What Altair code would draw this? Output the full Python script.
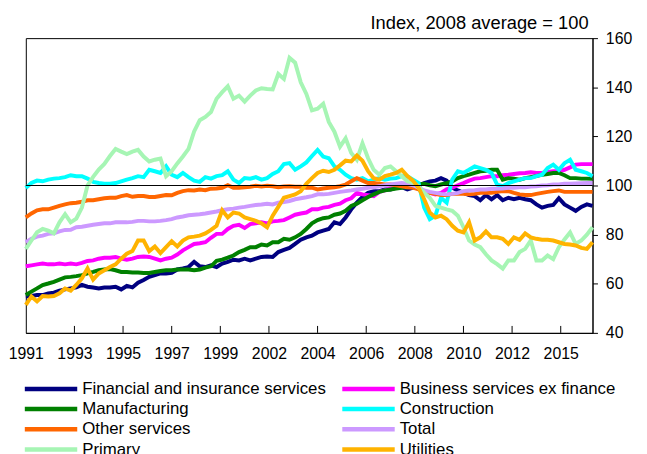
import altair as alt
import pandas as pd

series = ["Financial and insurance services", "Business services ex finance",
          "Manufacturing", "Construction", "Other services", "Total",
          "Primary", "Utilities"]
colors = ["#000080", "#FF00FF", "#008000", "#00FFFF", "#FF6600", "#CC99FF",
          "#A6F5B4", "#FFB300"]

# quarterly observations, first one at the left edge of the plot
start_year = 1991.25
n_quarters = 102

financial = [54.8, 55, 55.4, 55.4, 56.1, 56.4, 57.2, 57.7, 58.1, 58.5, 59.5, 58.8, 58.5, 58.1, 58.5, 58.5,
             58.8, 57.7, 59.1, 58.5, 60.4, 61.5, 62.8, 63.5, 64.2, 64.2, 64.4, 65.8, 66.2, 66.8, 68.9, 67.1,
             66.8, 67.5, 66.8, 68.2, 68.9, 69.8, 69.5, 70.2, 69.5, 70.2, 70.9, 71.1, 70.9, 72.9, 73.8, 74.6,
             76.2, 77.9, 78.9, 79.6, 80.9, 81.6, 82.3, 85, 84.3, 87, 90.3, 93, 95.3, 97, 97.7, 97.7,
             98.4, 98.4, 99.1, 99.3, 98.4, 99.1, 100.1, 101, 101.7, 102, 103, 102, 99.1, 98, 97, 96.1,
             95.7, 94, 96.1, 94.4, 96.1, 94, 95, 94.4, 95, 94.4, 94, 92.3, 91, 91.7, 92.1, 94.8,
             92.3, 91, 89.7, 91.3, 92.3, 91.7]
business = [67.1, 67.5, 67.9, 68.2, 67.9, 67.9, 68.2, 67.9, 68.2, 67.9, 68.5, 69.3, 69.5, 70.2, 70.6, 70.6,
            70.9, 70.2, 69.8, 70.2, 70.9, 71.1, 70.9, 70.2, 69.5, 70.2, 70.6, 71.9, 73.6, 74.9, 76.2, 76.5,
            76.9, 78.7, 80.3, 80.3, 82.3, 83.6, 84, 82.7, 84.3, 84.6, 85, 84.6, 85.4, 85.6, 85.9, 87,
            88.1, 88.6, 89, 90.3, 90.3, 91, 91.3, 92.1, 92.6, 94, 94.8, 97, 96.4, 96.1, 95.7, 97.4,
            98, 99.1, 100.1, 100.4, 100.1, 99.7, 99.1, 97.7, 97, 96.4, 97, 98.4, 99.1, 100.1, 101, 102,
            102.8, 103, 103.4, 103.8, 103.8, 104.2, 104.4, 104.7, 105, 105.1, 105.4, 105.1, 105.1, 105.5, 105.8, 105.8,
            106.4, 107.4, 108.5, 108.7, 108.7, 108.7]
manufacturing = [55.4, 56.8, 58.1, 59.5, 60.1, 60.8, 61.7, 62.6, 62.8, 63.1, 63.5, 64.2, 64.8, 65.5, 65.8, 66,
                 65.5, 64.8, 64.8, 64.6, 64.6, 64.4, 64.4, 64.8, 65.2, 65.5, 65.5, 65.8, 65.8, 65.8, 65.5, 65.8,
                 66.6, 67.1, 69.3, 69.8, 70.6, 71.5, 72.9, 73.8, 74.9, 74.9, 76, 75.6, 76.9, 76.9, 78.3, 77.9,
                 78.9, 80.3, 82.3, 84.6, 85.9, 86.7, 87, 88.1, 88.6, 89.7, 91.7, 92.6, 94, 95.3, 96.4, 97.4,
                 98, 98.4, 98.8, 99.1, 99.3, 99.7, 100.4, 100.7, 100.1, 99.7, 100.4, 101, 101.7, 103, 103.8, 104.4,
                 105.1, 105.8, 106, 106.4, 106.4, 102.4, 103, 102.8, 102.4, 103, 103.4, 103.8, 104.4, 104.7, 105.1, 105.1,
                 104.2, 103, 103, 102.8, 102.8, 102.7]
construction = [99, 101, 102, 101.7, 102.4, 102.8, 103, 103.4, 104.2, 103.8, 103.8, 102.8, 101.5, 101, 100.7, 100.7,
                101, 101.7, 102.4, 103, 103.8, 103.4, 106.4, 105.8, 105.1, 107.8, 104.4, 103.4, 105.1, 103.4, 102, 101.5,
                103.4, 102.8, 103.8, 104.2, 105.8, 102.4, 101, 103, 102.8, 103.4, 102.4, 103, 104.7, 105.8, 108.7, 109.1,
                106.4, 107.8, 109.4, 112, 114.5, 111.8, 111.1, 107.8, 106.4, 104.4, 103, 102.4, 103, 101.7, 102.4, 103,
                102.4, 102.8, 103, 103.8, 103.8, 102.4, 101, 91, 86.3, 87.7, 95, 93, 102.4, 105.8, 105.1, 106.4,
                107.8, 107.1, 106.4, 105.1, 100.4, 99.7, 101, 101.7, 102.4, 103, 103, 103.8, 104.4, 107.1, 108.5, 106.4,
                109.1, 110.5, 106.4, 105.8, 105.1, 103.8]
other = [87, 88.6, 89.9, 90.3, 90.3, 91, 91.7, 92.3, 92.8, 93, 93.4, 94, 94, 94.4, 94.8, 95,
         95, 95.7, 96.1, 95.4, 95.7, 95.7, 95.3, 95.3, 95.7, 96.1, 96, 97, 97.7, 98.1, 98, 98.4,
         98.1, 98.7, 98.8, 99.1, 100.1, 99.1, 99.1, 99.3, 99.5, 99.9, 99.6, 99.9, 99.7, 99.3, 99.6, 99.7,
         99.5, 99.5, 99.1, 99.1, 98.4, 98.8, 99.1, 99.3, 99.7, 100.4, 101.7, 103, 102, 101, 101, 100.7,
         100.4, 100.4, 100.1, 99.7, 99.3, 99.1, 98.4, 97.7, 97, 96.6, 96.1, 96.1, 96.6, 96.6, 96.6, 96.4,
         96.6, 97, 97, 97, 97.4, 97.7, 97.7, 97, 96.4, 96.1, 96.1, 96.6, 97, 97.4, 97.7, 98,
         97.4, 97.4, 97.4, 97.4, 97.4, 97.4]
total = [76.9, 78.3, 79.2, 79.6, 80.3, 80.5, 81.3, 81.9, 82, 83, 83.2, 83.6, 84, 84.3, 84.6, 84.6,
         85, 85, 85, 85.2, 85.6, 85.6, 85.4, 85.4, 85.6, 85.9, 86.3, 87, 87.4, 87.9, 88.1, 88.3,
         88.6, 89, 89.4, 89.9, 90.3, 90.6, 91, 91.3, 91.7, 92.1, 92.3, 92.6, 92.3, 93, 93.3, 93.7,
         94.4, 94.8, 95.2, 95.7, 96.4, 96.4, 96.6, 97, 97.4, 97.7, 98, 98.4, 98.7, 99.1, 99.3, 99.7,
         100.1, 100.4, 100.7, 101, 100.7, 100.1, 99.1, 98, 97.4, 97, 96.6, 96.4, 96.6, 97, 97.7, 98,
         98.1, 98.4, 98.4, 98.7, 98.7, 98.8, 99.1, 99.1, 99.3, 99.3, 99.6, 99.7, 100, 100.1, 100.4, 100.4,
         100.7, 100.7, 100.8, 100.9, 101, 101]
primary = [74.2, 77.6, 81, 82.3, 81.6, 80.5, 85, 88.3, 85, 86.5, 91, 100, 103.5, 106.5, 108.8, 112,
           114.9, 113.8, 112.8, 113.8, 114.5, 111.8, 109.8, 110.5, 111, 103.8, 105.8, 109, 111.8, 114.9, 122, 126.6,
           127.9, 129.9, 135.3, 138, 140.4, 135.3, 136.6, 134.2, 136.6, 138.7, 139.6, 139.3, 139.1, 145.4, 143.4, 152,
           150, 142, 137.3, 130.6, 131.3, 133.3, 125.9, 121.9, 115.8, 119.2, 113.2, 110.5, 117.2, 111.1, 106.4, 104.4,
           107.1, 107.8, 105.8, 103.8, 101.7, 101.1, 99.7, 97, 95, 91.7, 91, 90.3, 89.7, 87.7, 83, 77.6,
           76, 74.9, 72, 69.5, 68, 66.2, 69.5, 69.5, 72.9, 74.2, 77.6, 69.5, 69.5, 71.5, 70, 74.9,
           78, 80.9, 76.2, 77.6, 80, 83]
utilities = [51.4, 54.8, 52.8, 55, 54.8, 55, 56.1, 58.1, 57.2, 59.5, 62.2, 66.2, 61.7, 64.2, 65.5, 66.8,
             67.9, 70.2, 72.2, 73.3, 77.6, 77.6, 73.3, 75.2, 72.5, 74.9, 77.3, 75.2, 77.6, 78.9, 79.2, 79.6,
             80.5, 81.9, 83.6, 89.9, 87, 89, 88.6, 87, 86.3, 85.6, 84.6, 83, 87.7, 91.3, 95, 95.7,
             96.4, 97.7, 100.7, 103, 105.1, 106, 105.5, 106.4, 108.2, 110.1, 109.8, 112.2, 110.1, 105.8, 103, 102.4,
             103.8, 104.4, 105.1, 106.4, 103.8, 102, 99.1, 94.4, 89, 87, 87.7, 86.3, 83.6, 81.6, 80.9, 85,
             77.6, 78.9, 81.3, 78.9, 78.9, 78.3, 76.2, 78.9, 77.9, 80.5, 78.9, 78.3, 77.9, 77.9, 77.6, 76.9,
             76.2, 76, 75.6, 74.6, 74.2, 76.9]

values_by_series = [financial, business, manufacturing, construction, other, total, primary, utilities]

# x-axis labels sit every 26 months from the first observation
tick_labels = ["1991", "1993", "1995", "1997", "1999", "2002", "2004", "2006",
               "2008", "2010", "2012", "2015"]
tick_step = 26 / 12
tick_values = [start_year + k * tick_step for k in range(len(tick_labels))]
x_end = start_year + (n_quarters - 1) * 0.25

y_ticks = [40, 60, 80, 100, 120, 140, 160]
title_text = "Index, 2008 average = 100"

rows = []
for name, vals in zip(series, values_by_series):
    for i, v in enumerate(vals):
        rows.append({"series": name, "year": start_year + 0.25 * i, "value": v})
df = pd.DataFrame(rows)

FONT = "Liberation Sans"
W, H = 573, 298
label_list = "[" + ",".join("'%s'" % t for t in tick_labels) + "]"
label_expr = "%s[round((datum.value - %r) / %r)]" % (label_list, start_year, tick_step)

x_scale = alt.Scale(domain=[start_year, x_end], nice=False, zero=False)
y_scale = alt.Scale(domain=[40, 160], nice=False, zero=False)

lines = alt.Chart(df).mark_line(strokeWidth=4).encode(
    x=alt.X("year:Q", scale=x_scale,
            axis=alt.Axis(values=tick_values, labelExpr=label_expr, title=None, ticks=False,
                          grid=False, domainColor="black", labelFont=FONT, labelFontSize=16,
                          labelColor="black", labelPadding=13, labelFlush=False,
                          labelOverlap=False)),
    y=alt.Y("value:Q", scale=y_scale,
            axis=alt.Axis(orient="right", values=y_ticks, title=None, grid=False,
                          domainColor="black", tickColor="black", tickSize=5,
                          labelFont=FONT, labelFontSize=16, labelColor="black",
                          labelPadding=8)),
    color=alt.Color("series:N", sort=series,
                    scale=alt.Scale(domain=series, range=colors),
                    legend=alt.Legend(orient="none", legendX=17, legendY=346, columns=2,
                                      direction="horizontal",
                                      title=None, symbolType="M-5.3,0H5.3", symbolSize=100,
                                      symbolStrokeWidth=4.5, labelFont=FONT, labelFontSize=17,
                                      labelColor="black", labelLimit=400, labelOffset=23,
                                      rowPadding=1.5, columnPadding=7)),
)

ref = alt.Chart(pd.DataFrame({"value": [100]})).mark_rule(color="black", strokeWidth=1).encode(
    y=alt.Y("value:Q", scale=y_scale)
)

inner_ticks = alt.Chart(pd.DataFrame({"year": tick_values[1:]})).mark_rule(
    color="black", strokeWidth=1
).encode(
    x=alt.X("year:Q", scale=x_scale),
    y=alt.value(H - 7),
    y2=alt.value(H),
)

title = alt.Chart(pd.DataFrame({"t": [title_text]})).mark_text(
    align="right", baseline="alphabetic", font=FONT, fontSize=18.5, color="black"
).encode(
    text="t:N",
    x=alt.value(W - 4),
    y=alt.value(-9),
)

chart = alt.layer(lines, ref, inner_ticks, title).properties(
    width=W, height=H,
    autosize=alt.AutoSizeParams(type="none"),
    padding={"left": 18, "top": 28, "right": 47, "bottom": 120},
).configure_view(stroke="black", strokeWidth=1)

chart.save("out.html", embed_options={"renderer": "svg", "actions": False})
